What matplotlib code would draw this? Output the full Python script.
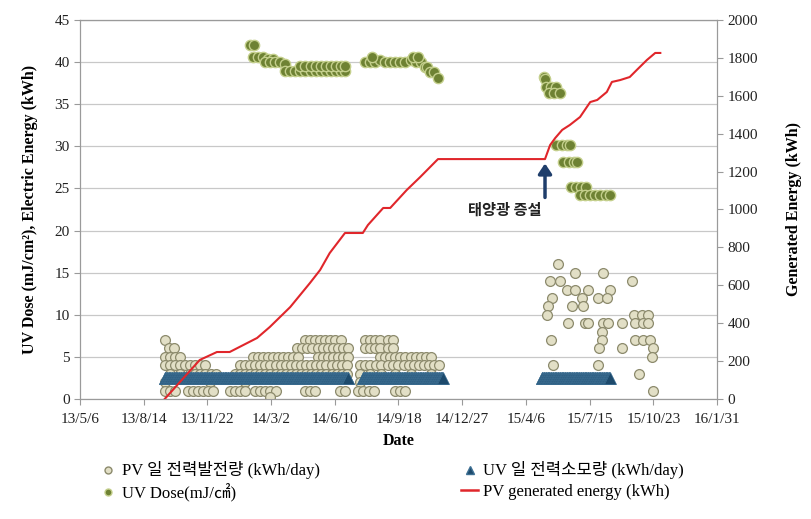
import matplotlib
matplotlib.use("Agg")
import matplotlib.pyplot as plt
import matplotlib.dates as mdates
from matplotlib.lines import Line2D
import pandas as pd

plt.rcParams['font.family'] = ['Liberation Serif', 'Noto Sans CJK KR']

# PV daily generation (kWh/day), grouped by value
pv_daily = {
    16: ['2015-05-26'],
    15: ['2015-06-22', '2015-08-05'],
    14: ['2015-05-14', '2015-05-29', '2015-09-19'],
    13: ['2015-06-09', '2015-06-22', '2015-07-12', '2015-08-16'],
    12: ['2015-05-17', '2015-07-03', '2015-07-28', '2015-08-11'],
    11: ['2015-05-11', '2015-06-17', '2015-07-05'],
    10: ['2015-05-09', '2015-09-22', '2015-10-06', '2015-10-14'],
    9: ['2015-06-11', '2015-07-08', '2015-07-12', '2015-08-05', '2015-08-13',
        '2015-09-04', '2015-09-24', '2015-10-07', '2015-10-15'],
    8: ['2015-08-04'],
    7: ['2013-09-16',
        '2014-04-24', '2014-05-02', '2014-05-10', '2014-05-18', '2014-05-26', '2014-06-03',
        '2014-06-11', '2014-06-19',
        '2014-07-27', '2014-08-04', '2014-08-12', '2014-08-20', '2014-09-01', '2014-09-09',
        '2015-05-15', '2015-08-03', '2015-09-24', '2015-10-07', '2015-10-18'],
    6: ['2013-09-22', '2013-09-30',
        '2014-04-12', '2014-04-20', '2014-04-28', '2014-05-06', '2014-05-14', '2014-05-22',
        '2014-05-30', '2014-06-07', '2014-06-15', '2014-06-23', '2014-07-01',
        '2014-07-27', '2014-08-04', '2014-08-12', '2014-08-20', '2014-09-01', '2014-09-09',
        '2015-07-30', '2015-09-04', '2015-10-23'],
    5: ['2013-09-16', '2013-09-24', '2013-10-02', '2013-10-10',
        '2014-02-01', '2014-02-09', '2014-02-17', '2014-02-25', '2014-03-05', '2014-03-13',
        '2014-03-21', '2014-03-29', '2014-04-06', '2014-04-14',
        '2014-05-14', '2014-05-22', '2014-05-30', '2014-06-07', '2014-06-15', '2014-06-23',
        '2014-06-30',
        '2014-08-20', '2014-08-28', '2014-09-05', '2014-09-13', '2014-09-21', '2014-09-29',
        '2014-10-07', '2014-10-15', '2014-10-23', '2014-10-31', '2014-11-08',
        '2015-10-21'],
    4: ['2013-09-16', '2013-09-24', '2013-10-02', '2013-10-10', '2013-10-18', '2013-10-26',
        '2013-11-03', '2013-11-11', '2013-11-19',
        '2014-01-12', '2014-01-20', '2014-01-28', '2014-02-05', '2014-02-13', '2014-02-21',
        '2014-03-01', '2014-03-09', '2014-03-17', '2014-03-25', '2014-04-02', '2014-04-10',
        '2014-04-18', '2014-04-26', '2014-05-04', '2014-05-12', '2014-05-20', '2014-05-28',
        '2014-06-05', '2014-06-13', '2014-06-21', '2014-06-29',
        '2014-07-20', '2014-07-28', '2014-08-05', '2014-08-13', '2014-08-21', '2014-09-02',
        '2014-09-10', '2014-09-18', '2014-09-26', '2014-10-04', '2014-10-12', '2014-10-20',
        '2014-10-28', '2014-11-05', '2014-11-13', '2014-11-21',
        '2015-05-18', '2015-07-28'],
    3: ['2013-09-24', '2013-10-10', '2013-10-26', '2013-11-03', '2013-11-11', '2013-11-19',
        '2013-11-27', '2013-12-05',
        '2014-01-04', '2014-01-12', '2014-01-20', '2014-01-28', '2014-02-05', '2014-02-13',
        '2014-02-21', '2014-03-01', '2014-03-09', '2014-03-17', '2014-03-25', '2014-04-02',
        '2014-04-10', '2014-04-18', '2014-04-26', '2014-05-04', '2014-05-12', '2014-05-20',
        '2014-05-28', '2014-06-05', '2014-06-13', '2014-06-21', '2014-06-29',
        '2014-07-20', '2014-08-05', '2014-08-21', '2014-09-13', '2014-10-07', '2014-11-08',
        '2015-10-01'],
    2: ['2013-09-16', '2013-11-26', '2014-01-20', '2014-07-20'],
    1: ['2013-09-16', '2013-09-24', '2013-10-02', '2013-10-22', '2013-10-30', '2013-11-07',
        '2013-11-15', '2013-11-23', '2013-12-01',
        '2013-12-27', '2014-01-04', '2014-01-12', '2014-01-20',
        '2014-02-05', '2014-02-13', '2014-02-21', '2014-03-01', '2014-03-09',
        '2014-04-24', '2014-05-02', '2014-05-10', '2014-06-18', '2014-06-26',
        '2014-07-17', '2014-07-25', '2014-08-02', '2014-08-10', '2014-09-13', '2014-09-21',
        '2014-09-29',
        '2015-10-23'],
    0.2: ['2014-02-28'],
}

# UV lamp daily consumption (kWh/day): constant while operating
uv_periods = [('2013-09-16', '2014-07-01'), ('2014-07-24', '2014-11-27'),
              ('2015-05-01', '2015-08-16')]
uv_daily_kwh = 2.5

# UV dose (mJ/cm2)
dose_dates = ['2014-01-28', '2014-02-03',
              '2014-02-01', '2014-02-09', '2014-02-17', '2014-02-25', '2014-03-05',
              '2014-02-20', '2014-02-28', '2014-03-08', '2014-03-16', '2014-03-24',
              '2014-03-24', '2014-04-01', '2014-04-09', '2014-04-17', '2014-04-25', '2014-05-03',
              '2014-05-11', '2014-05-19', '2014-05-27', '2014-06-04', '2014-06-12', '2014-06-20',
              '2014-06-26',
              '2014-04-17', '2014-04-25', '2014-05-03', '2014-05-11', '2014-05-19', '2014-05-27',
              '2014-06-04', '2014-06-12', '2014-06-20', '2014-06-26',
              '2014-07-27', '2014-08-04', '2014-08-12', '2014-08-20', '2014-08-28', '2014-09-05',
              '2014-09-13', '2014-09-21', '2014-09-29', '2014-10-07', '2014-10-15', '2014-10-23',
              '2014-08-08', '2014-10-11', '2014-10-19',
              '2014-10-29', '2014-11-02', '2014-11-06', '2014-11-12', '2014-11-19',
              '2015-05-04', '2015-05-06',
              '2015-05-08', '2015-05-16', '2015-05-24',
              '2015-05-12', '2015-05-20', '2015-05-30',
              '2015-05-24', '2015-06-01', '2015-06-09', '2015-06-14',
              '2015-06-04', '2015-06-12', '2015-06-20', '2015-06-26',
              '2015-06-16', '2015-06-24', '2015-07-02', '2015-07-10',
              '2015-06-30', '2015-07-08', '2015-07-16', '2015-07-24', '2015-08-01', '2015-08-09',
              '2015-08-16']
dose_vals = [42, 42,
             40.6, 40.6, 40.6, 40.4, 40.4,
             40.0, 40.0, 40.0, 40.0, 39.8,
             39.0, 39.0, 39.0, 39.0, 39.0, 39.0, 39.0, 39.0, 39.0, 39.0, 39.0, 39.0, 39.0,
             39.5, 39.5, 39.5, 39.5, 39.5, 39.5, 39.5, 39.5, 39.5, 39.5,
             40.0, 40.0, 40.0, 40.2, 40.0, 40.0, 40.0, 40.0, 40.0, 40.2, 40.0, 40.0,
             40.6, 40.6, 40.6,
             39.4, 39.4, 38.8, 38.8, 38.1,
             38.2, 38.0,
             37.1, 37.1, 37.1,
             36.3, 36.3, 36.3,
             30.2, 30.2, 30.2, 30.2,
             28.1, 28.1, 28.1, 28.1,
             25.2, 25.2, 25.2, 25.2,
             24.2, 24.2, 24.2, 24.2, 24.2, 24.2, 24.2]

# cumulative PV generated energy (kWh), right axis
gen_dates = ['2013-09-16', '2013-11-10', '2013-12-07', '2013-12-27', '2014-02-08', '2014-02-28',
             '2014-04-01', '2014-05-02', '2014-05-18', '2014-06-02', '2014-06-26', '2014-07-24',
             '2014-08-01', '2014-08-25', '2014-09-05', '2014-10-01', '2014-10-22', '2014-11-19',
             '2015-05-06', '2015-05-14', '2015-05-22', '2015-06-02', '2015-06-14', '2015-06-30',
             '2015-07-16', '2015-07-27', '2015-08-11', '2015-08-19', '2015-09-01', '2015-09-16',
             '2015-09-27', '2015-10-13', '2015-10-26', '2015-11-03']
gen_kwh = [0, 206, 248, 248, 322, 380,
           485, 612, 681, 770, 876, 876,
           918, 1008, 1008, 1103, 1171, 1266,
           1266, 1340, 1377, 1420, 1446, 1488,
           1567, 1578, 1620, 1673, 1683, 1699,
           1736, 1789, 1826, 1826]

x_start, x_end = pd.Timestamp('2013-05-06'), pd.Timestamp('2016-01-31')
tick_dates = pd.date_range(x_start, x_end, freq='100D')

fig = plt.figure(figsize=(8.11, 5.19), dpi=100)
ax = fig.add_axes([0.0986, 0.2312, 0.7855, 0.7303])
ax2 = ax.twinx()

# PV daily generation
for val, dates in pv_daily.items():
    ax.scatter(pd.to_datetime(dates), [val] * len(dates), s=50, marker='o',
               facecolor='#e2dfc6', edgecolor='#8c8a6c', linewidth=0.9, zorder=3)

# UV consumption band
for start, end in uv_periods:
    d = pd.date_range(start, end, freq='1D')
    ax.scatter(d, [uv_daily_kwh] * len(d), s=75, marker='^',
               facecolor='#1d4a6c', edgecolor='#3d6f93', linewidth=0.5, zorder=4)

# UV dose
ax.scatter(pd.to_datetime(dose_dates), dose_vals, s=55, marker='o',
           facecolor='#6e8233', edgecolor='#c4cf8c', linewidth=1.0, zorder=5)

ax2.plot(pd.to_datetime(gen_dates), gen_kwh, color='#e0262b', lw=1.5)

ax.set_xlim(x_start, x_end)
ax.set_ylim(0, 45)
ax2.set_ylim(0, 2000)
ax.set_yticks(range(0, 46, 5))
ax2.set_yticks(range(0, 2001, 200))
ax.set_xticks(tick_dates)
ax.set_xticklabels([f"{d.year % 100}/{d.month}/{d.day}" for d in tick_dates])

ax.yaxis.grid(True, color='#c8c8c8', lw=0.9)
ax.set_axisbelow(True)
for a in (ax, ax2):
    for s in a.spines.values():
        s.set_color('#9a9a9a')
    a.tick_params(colors='#9a9a9a', labelcolor='#222222', labelsize=11, length=4)
ax.tick_params(axis='x', pad=6)
ax.spines['top'].set_color('#555555')

ax.set_ylabel('UV Dose (mJ/cm²), Electric Energy (kWh)', fontsize=11.5,
              fontweight='bold', labelpad=12)
ax2.set_ylabel('Generated Energy (kWh)', fontsize=11.5, fontweight='bold', labelpad=20)
ax.set_xlabel('Date', fontsize=11.5, fontweight='bold', labelpad=5)

# expansion annotation
ax.annotate('', xy=(pd.Timestamp('2015-05-06'), 28.3),
            xytext=(pd.Timestamp('2015-05-06'), 23.6),
            arrowprops=dict(arrowstyle='-|>,head_width=0.4,head_length=0.6',
                            color='#1f3e6b', lw=2.5))
ax.text(pd.Timestamp('2015-03-04'), 22.5, '태양광 증설', ha='center', va='center',
        fontsize=11, fontweight='bold', family=['Noto Sans CJK KR'], color='#222222')

handles = [
    Line2D([], [], ls='none', marker='o', ms=5, mfc='#e2dfc6', mec='#8c8a6c'),
    Line2D([], [], ls='none', marker='o', ms=5, mfc='#6e8233', mec='#c4cf8c'),
    Line2D([], [], ls='none', marker='^', ms=6, mfc='#1d4a6c', mec='#3d6f93'),
    Line2D([], [], color='#e0262b', lw=1.8),
]
labels = ['PV 일 전력발전량 (kWh/day)', 'UV Dose(mJ/㎠)',
          'UV 일 전력소모량 (kWh/day)', 'PV generated energy (kWh)']
fig.legend(handles, labels, ncol=2, loc='upper left', bbox_to_anchor=(0.105, 0.14),
           frameon=False, fontsize=12, handlelength=1.0, handletextpad=0.3,
           columnspacing=8.5, labelspacing=0.25)

fig.savefig('out.png', dpi=100)
